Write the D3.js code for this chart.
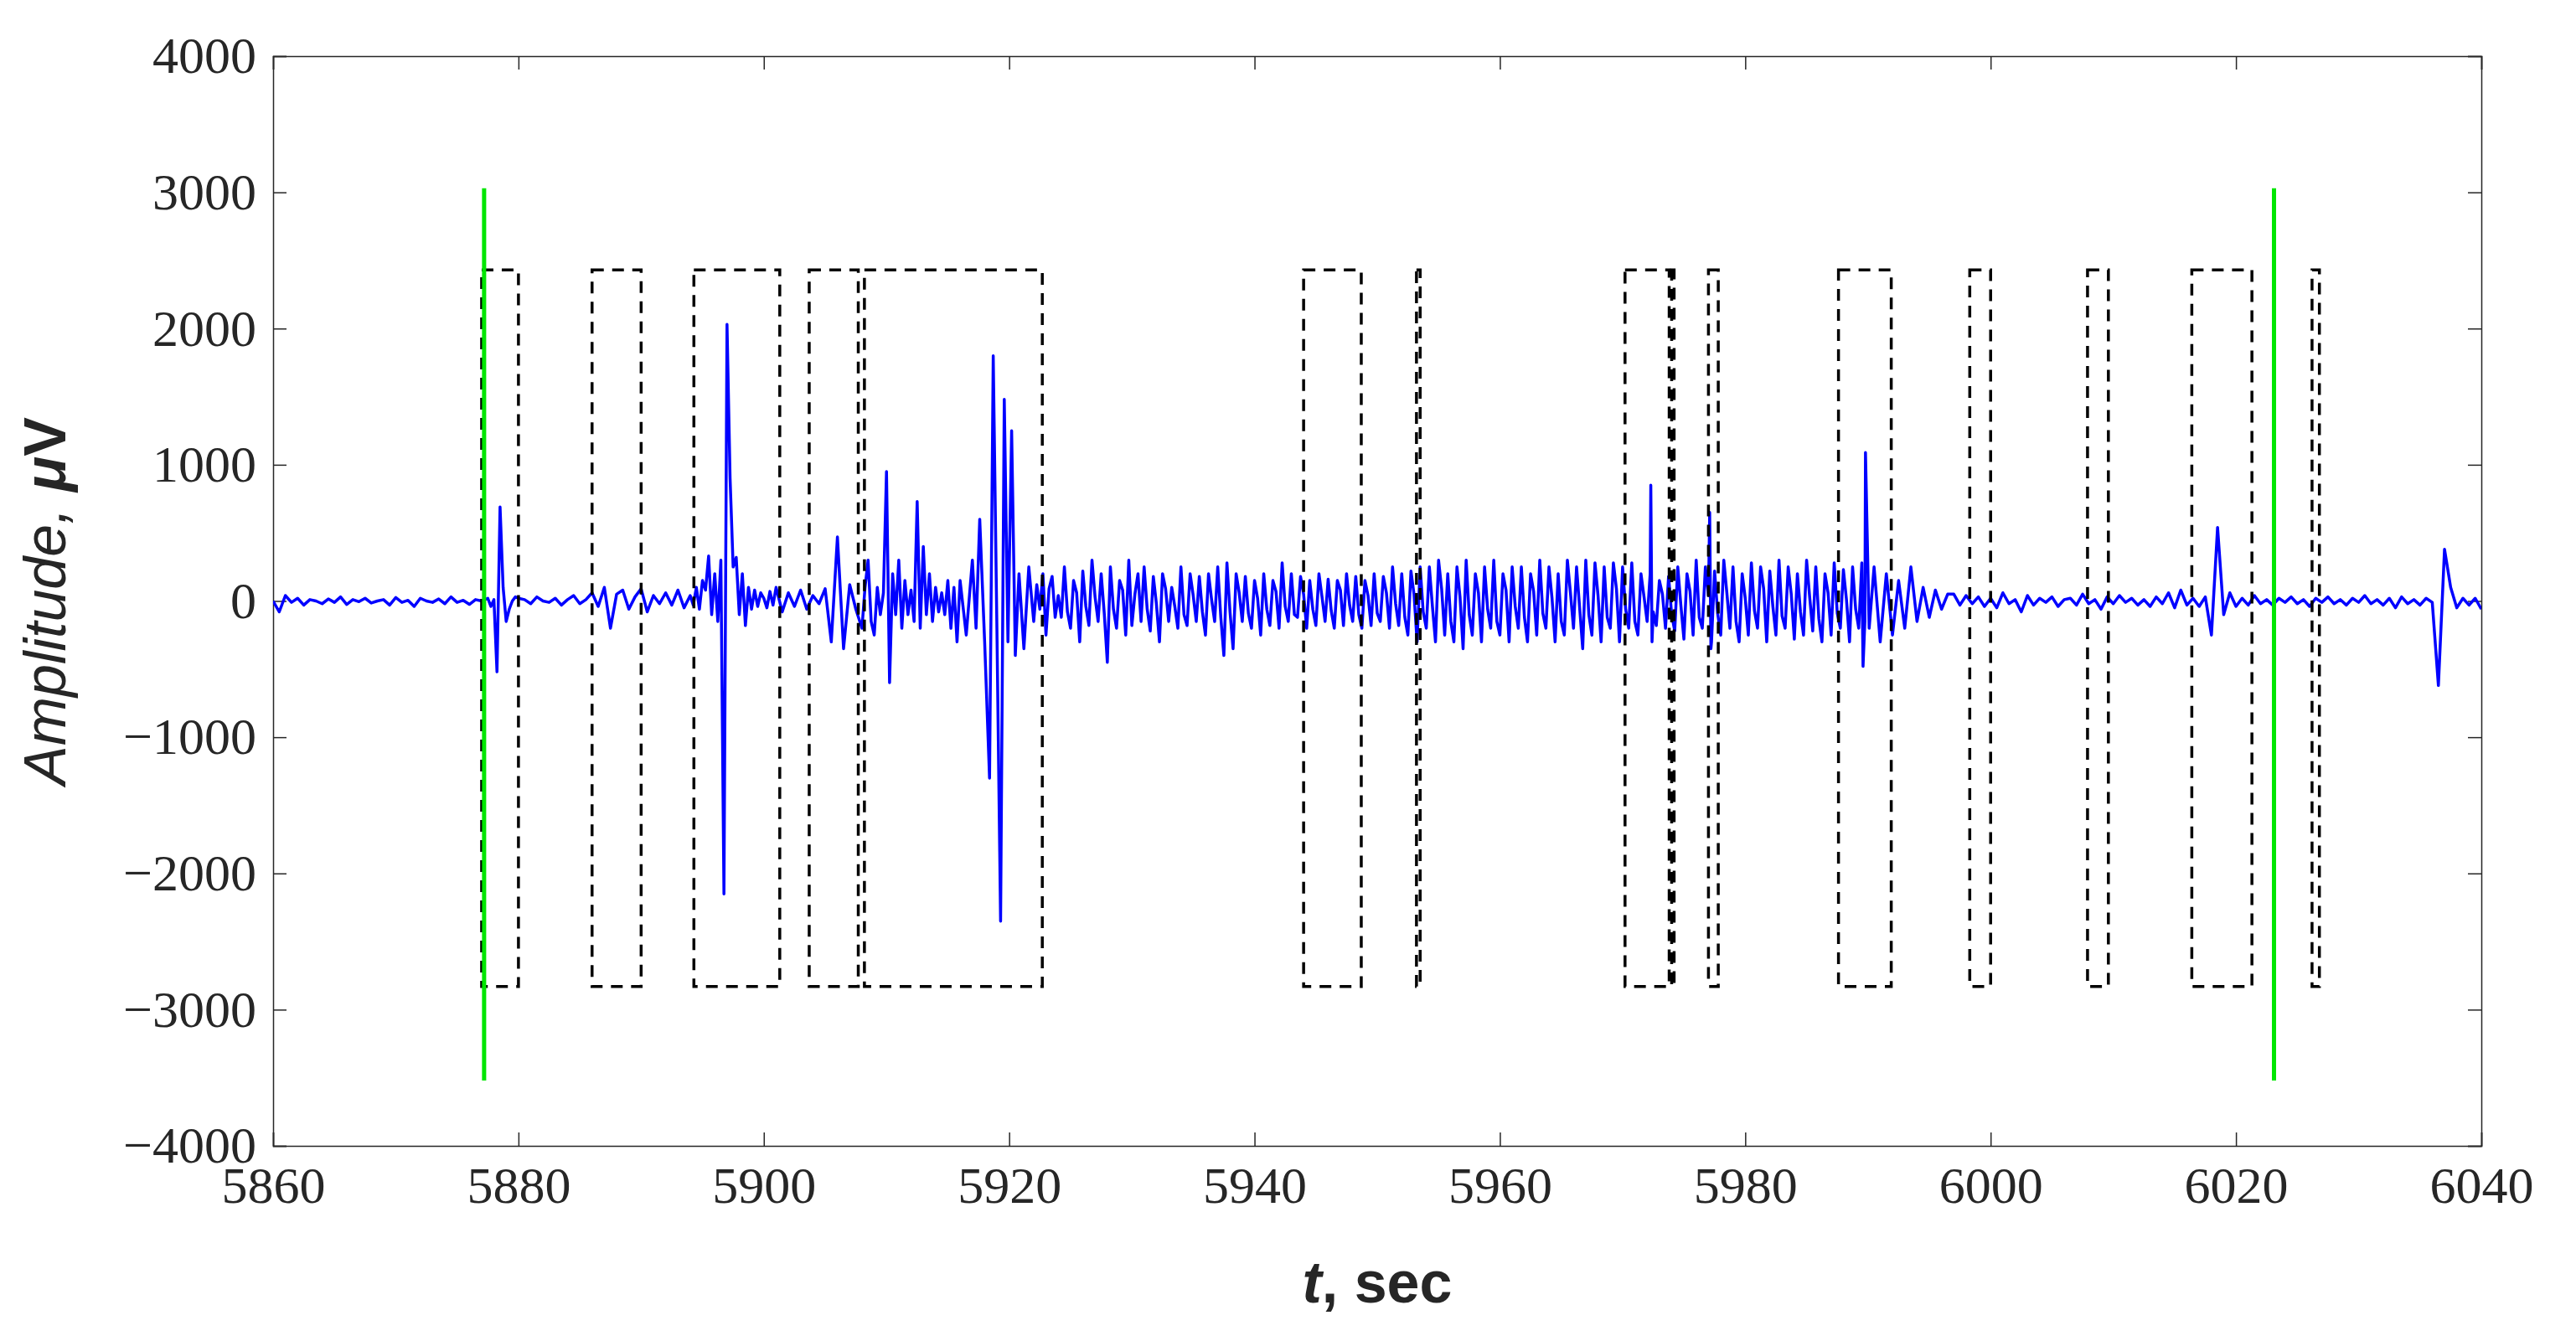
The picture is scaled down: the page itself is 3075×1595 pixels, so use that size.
<!DOCTYPE html>
<html><head><meta charset="utf-8">
<script src="https://cdn.jsdelivr.net/npm/d3@7"></script>
<style>body{margin:0;background:#fff}</style>
</head><body><svg id="chart" width="3075" height="1595"></svg>
<script>
const xTicks = [5860,5880,5900,5920,5940,5960,5980,6000,6020,6040];
const yTicks = [-4000,-3000,-2000,-1000,0,1000,2000,3000,4000];
// dashed event windows [start, end]
const windows = [[5877,5880],[5886,5890],[5894.3,5901.3],[5903.7,5907.7],[5908.2,5922.7],
  [5944,5948.7],[5953.2,5953.5],[5970.2,5973.8],[5974,5974.2],[5977,5977.8],
  [5987.6,5991.9],[5998.3,6000],[6007.9,6009.6],[6016.4,6021.3],[6026.2,6026.8]];
const winLow = -2830, winHigh = 2430;
const markers = [5877.2, 6023.1];
const markerLow = -3520, markerHigh = 3030;
// signal segments: start time, step, values
const segments = [
  [5860,0.5,[0,-80,40,-10,20,-30,10,0,-20,15,-10,30,-25,10,-5,20,-15,0,10,-30,25,-10,5,-40,20,0,-10,15,-20,30,-10,5,-25,10,0]],
  [5877.5,0.25,[20,-40,10,-520,690,100,-150,-60,0,30]],
  [5880,0.5,[20,10,-20,30,0,-10,20,-30,10,40,-20,10]],
  [5886,0.5,[60,-40,100,-200,50,80,-60,30,90,-80,40,-20,60,-30,80,-50]],
  [5894,0.25,[40,-30,100,-60,150,80,330,-100,200,-150,300,-2150,2030,900,250,320,-100,200,-180,100,-60,80,-40,60,20,-50,70,-30]],
  [5901,0.5,[100,-80,60,-40,80,-60,40,-20,90,-300,470,-350,120,-60]],
  [5908,0.25,[-200,100,300,-150,-250,100,-100,60,950,-600,200,-100,300,-200,150,-100,80,-150,730,-200,400,-100,200,-150,100,-80,60,-100,150,-200,100,-300]],
  [5922,0.25,[
    -150,120,-60,200,-250,90,180,-120,40,-120,250,-80,-200,150,60,-300,
    220,-40,-180,300,30,-150,200,-90,-450,250,-60,-200,150,80,-250,300,
    -180,50,200,-150,250,-60,-220,180,-20,-300,200,90,-150,100,-40,-200,
    250,-100,-180,200,40,-150,180,-80,-250,200,10,-150,250,-120,-400,280,
    -80,-350,200,60,-150,180,-90,-200,150,20,-250,200,-60,-180,150,70,
    -200,280,-40,-150,200,-100,-120,180,50,-200,150,-60,-180,200,30,-150,
    160,-70,-200,150,80,-180,200,-30,-150,180,-100,-200,150,40,-180,200,
    -90,-150,180,60,-200,250,-20,-180,200,-120,-250,220,50,-300,250,-80,
    -200,250,-40,-300,300,90,-250,200,-150,-300,250,30,-350,300,-100,-250,
    200,60,-300,250,-60,-200,300,-150,-250,200,80,-300,250,-40,-200,250,
    -120,-300,200,70,-250,300,-90,-200,250,20,-300,200,-150,-250,300,60,
    -200,250,-50,-350,300,-100,-250,280,40,-300,250,-120,-200,280,90,-300,
    250,-60,-200,280,-150,-250,200,30,-150,200,-80,-180,150,50,-200,180,
    -100,-220,250,-30,-280,200,70,-250,300,-120,-200,250,40,-300,220,-90,
    -250,300,60,-200,250,-150,-300,200,20,-250,280,-70,-200,250,90,-300,
    220,-40,-250,300,-110,-200,250,50,-280,200,-80,-250,300,30,-220,250,
    -130,-300,200,60,-250,280,-90,-200,230,10,-300,250,-60,-200,280,-150]],
  [5990.5,0.5,[250,-300,200,-250,150,-200,250,-150,100,-120,80,-60,50,50,-30,40,-20]],
  [5999,0.5,[30,-40,20,-50,60,-20,10,-80,40,-30,20,-10,30,-40,10,20,-30,50,-20,10,
    -60,30,-20,40,-10,20,-30,10,-40,30,-20,60,-50,80,-30,20,-40,30,-250,540,
    -100,60,-40,20,-30,40,-20,10,-30,20,-10,30,-20,10,-40,20,-10,30,-20,10,
    -30,20,-10,40,-20,10,-30,20,-50,30,-20,10,-30,20,-10,-620,380,100,-50,20,-30,20]]
];
const spikes = [[5916,150],[5916.5,-250],[5917,300],[5917.3,-200],[5917.6,600],[5918,-300],
  [5918.4,-1300],[5918.7,1800],[5919,-200],[5919.3,-2350],[5919.6,1480],[5919.9,-300],
  [5920.2,1250],[5920.5,-400],[5920.8,200],[5921.2,-350],[5921.6,250],
  [5972.3,850],[5972.4,-300],[5977.1,650],[5977.2,-350],[5989.6,-480],[5989.8,1090],[5990.1,-200],[6040,-60]];

const signal = [];
segments.forEach(([t0,dt,vals]) => vals.forEach((v,i) => signal.push([t0+i*dt, v])));
spikes.forEach(p => signal.push(p));
signal.sort((a,b) => a[0]-b[0]);

const L=326, R=2962, T=67, B=1368;
const svg = d3.select("#chart");
const x = d3.scaleLinear().domain([5860,6040]).range([L,R]);
const y = d3.scaleLinear().domain([-4000,4000]).range([B,T]);

svg.append("clipPath").attr("id","clip").append("rect")
  .attr("x",L).attr("y",T).attr("width",R-L).attr("height",B-T);

const font = "'Liberation Serif', serif";
const xAxis = svg.append("g").attr("transform",`translate(0,${B})`)
  .call(d3.axisBottom(x).tickValues(xTicks).tickSize(-16).tickPadding(24).tickFormat(d3.format("d")));
const yAxis = svg.append("g").attr("transform",`translate(${L},0)`)
  .call(d3.axisLeft(y).tickValues(yTicks).tickSize(-16).tickPadding(20).tickFormat(d => d<0 ? "\u2212"+Math.abs(d) : d));
const xAxisT = svg.append("g").attr("transform",`translate(0,${T})`)
  .call(d3.axisTop(x).tickValues(xTicks).tickSize(-16).tickFormat(""));
const yAxisR = svg.append("g").attr("transform",`translate(${R},0)`)
  .call(d3.axisRight(y).tickValues(yTicks).tickSize(-16).tickFormat(""));
[xAxis,yAxis,xAxisT,yAxisR].forEach(g => {
  g.selectAll("path,line").attr("stroke","#262626").attr("stroke-width",1.5);
  g.selectAll("text").attr("font-family",font).attr("font-size",62).attr("fill","#262626");
});

const plot = svg.append("g").attr("clip-path","url(#clip)");
plot.append("path").datum(signal)
  .attr("fill","none").attr("stroke","#0000ff").attr("stroke-width",3.5).attr("stroke-linejoin","round")
  .attr("d", d3.line().x(d=>x(d[0])).y(d=>y(d[1])));

plot.selectAll("rect.win").data(windows).join("rect").attr("class","win")
  .attr("x",d=>x(d[0])).attr("width",d=>x(d[1])-x(d[0]))
  .attr("y",y(winHigh)).attr("height",y(winLow)-y(winHigh))
  .attr("fill","none").attr("stroke","#000").attr("stroke-width",3.5).attr("stroke-dasharray","14,10");

plot.selectAll("line.mk").data(markers).join("line").attr("class","mk")
  .attr("x1",d=>x(d)).attr("x2",d=>x(d)).attr("y1",y(markerHigh)).attr("y2",y(markerLow))
  .attr("stroke","#00e600").attr("stroke-width",5);

const lab = svg.append("text").attr("x",(L+R)/2).attr("y",1555).attr("text-anchor","middle")
  .attr("font-family","'Liberation Sans', Arial, sans-serif").attr("font-size",70).attr("font-weight","bold").attr("fill","#262626");
lab.append("tspan").attr("font-style","italic").text("t");
lab.append("tspan").text(", sec");

const ylab = svg.append("text").attr("transform",`translate(78,${(T+B)/2}) rotate(-90)`).attr("text-anchor","middle")
  .attr("font-family","'Liberation Sans', Arial, sans-serif").attr("font-size",70).attr("fill","#262626");
ylab.append("tspan").attr("font-style","italic").text("Amplitude, ");
ylab.append("tspan").attr("font-style","italic").attr("font-weight","bold").text("\u03bc");
ylab.append("tspan").attr("font-weight","bold").text("V");
</script></body></html>
